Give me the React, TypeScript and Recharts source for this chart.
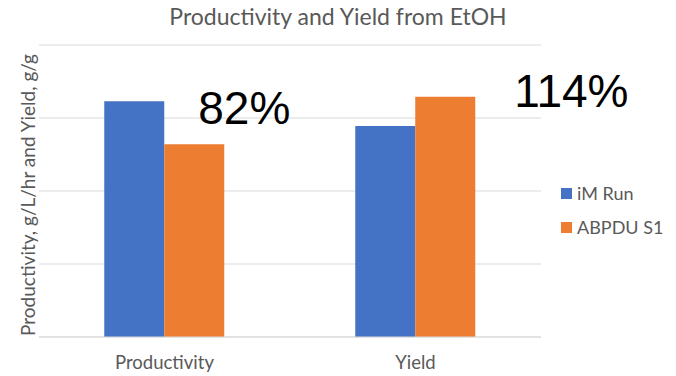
import React from "react";
import {
  BarChart, Bar, XAxis, YAxis, CartesianGrid, LabelList,
} from "recharts";

// Category labels and the two runs being compared (arbitrary units, axis values hidden)
const categories = ["Productivity", "Yield"];
const imRun = [3.23, 2.89];
const abpduS1 = [2.64, 3.29];
const yTicks = [0, 1, 2, 3, 4];

const seriesNames = ["iM Run", "ABPDU S1"];
const seriesColors = ["#4472C4", "#ED7D31"];

const data = categories.map((name, i) => ({
  name,
  im: imRun[i],
  abpdu: abpduS1[i],
}));

const GREY = "#595959";
const FONT = "Lato, 'Open Sans', sans-serif";

// ABPDU S1 relative to iM Run, drawn as big callouts near each orange bar
const calloutOffset = [
  { dx: 34, dy: -20 },
  { dx: 99, dy: 10 },
];

function Callout(props: any) {
  const { x, y, index } = props;
  const pct = Math.round((abpduS1[index] / imRun[index]) * 100);
  const off = calloutOffset[index];
  return (
    <text
      x={x + off.dx}
      y={y + off.dy}
      fill="#000"
      fontSize={46}
      fontFamily="'Liberation Sans', Arial, sans-serif"
    >
      {pct}%
    </text>
  );
}

function LegendBox() {
  return (
    <div
      style={{
        position: "absolute", left: 561, top: 176,
        fontFamily: FONT, fontSize: 18, color: GREY,
      }}
    >
      {seriesNames.map((n, i) => (
        <div key={n} style={{ display: "flex", alignItems: "center", height: 34 }}>
          <span
            style={{
              width: 11, height: 11, background: seriesColors[i],
              display: "inline-block", marginRight: 5,
            }}
          />
          {n}
        </div>
      ))}
    </div>
  );
}

export default function App() {
  return (
    <div style={{ position: "absolute", left: 0, top: 0, width: 676, height: 376, background: "#fff" }}>
      <div
        style={{
          position: "absolute", top: 2, left: 0, width: 676, textAlign: "center",
          fontFamily: FONT, fontSize: 23, color: GREY,
        }}
      >
        Productivity and Yield from EtOH
      </div>
      <svg
        width={40}
        height={376}
        style={{ position: "absolute", left: 0, top: 0 }}
      >
        <text
          x={27}
          y={195}
          transform="rotate(-90 27 195)"
          textAnchor="middle"
          dominantBaseline="central"
          fill={GREY}
          fontFamily={FONT}
          fontSize={19}
        >
          Productivity, g/L/hr and Yield, g/g
        </text>
      </svg>
      <BarChart
        width={676}
        height={376}
        data={data}
        margin={{ top: 45, right: 135, left: 39, bottom: 0 }}
        barCategoryGap="26%"
        barGap={0}
        style={{ position: "absolute", left: 0, top: 0 }}
      >
        <CartesianGrid vertical={false} stroke="#d9d9d9" horizontalValues={yTicks} />
        <XAxis
          dataKey="name"
          height={39}
          axisLine={{ stroke: "#d9d9d9" }}
          tickLine={false}
          tick={{ fill: GREY, fontFamily: FONT, fontSize: 18.5 }}
          tickMargin={13}
        />
        <YAxis hide domain={[0, 4]} ticks={yTicks} />
        <Bar dataKey="im" name={seriesNames[0]} fill={seriesColors[0]} isAnimationActive={false} />
        <Bar dataKey="abpdu" name={seriesNames[1]} fill={seriesColors[1]} isAnimationActive={false}>
          <LabelList dataKey="abpdu" content={<Callout />} />
        </Bar>
      </BarChart>
      <LegendBox />
    </div>
  );
}
